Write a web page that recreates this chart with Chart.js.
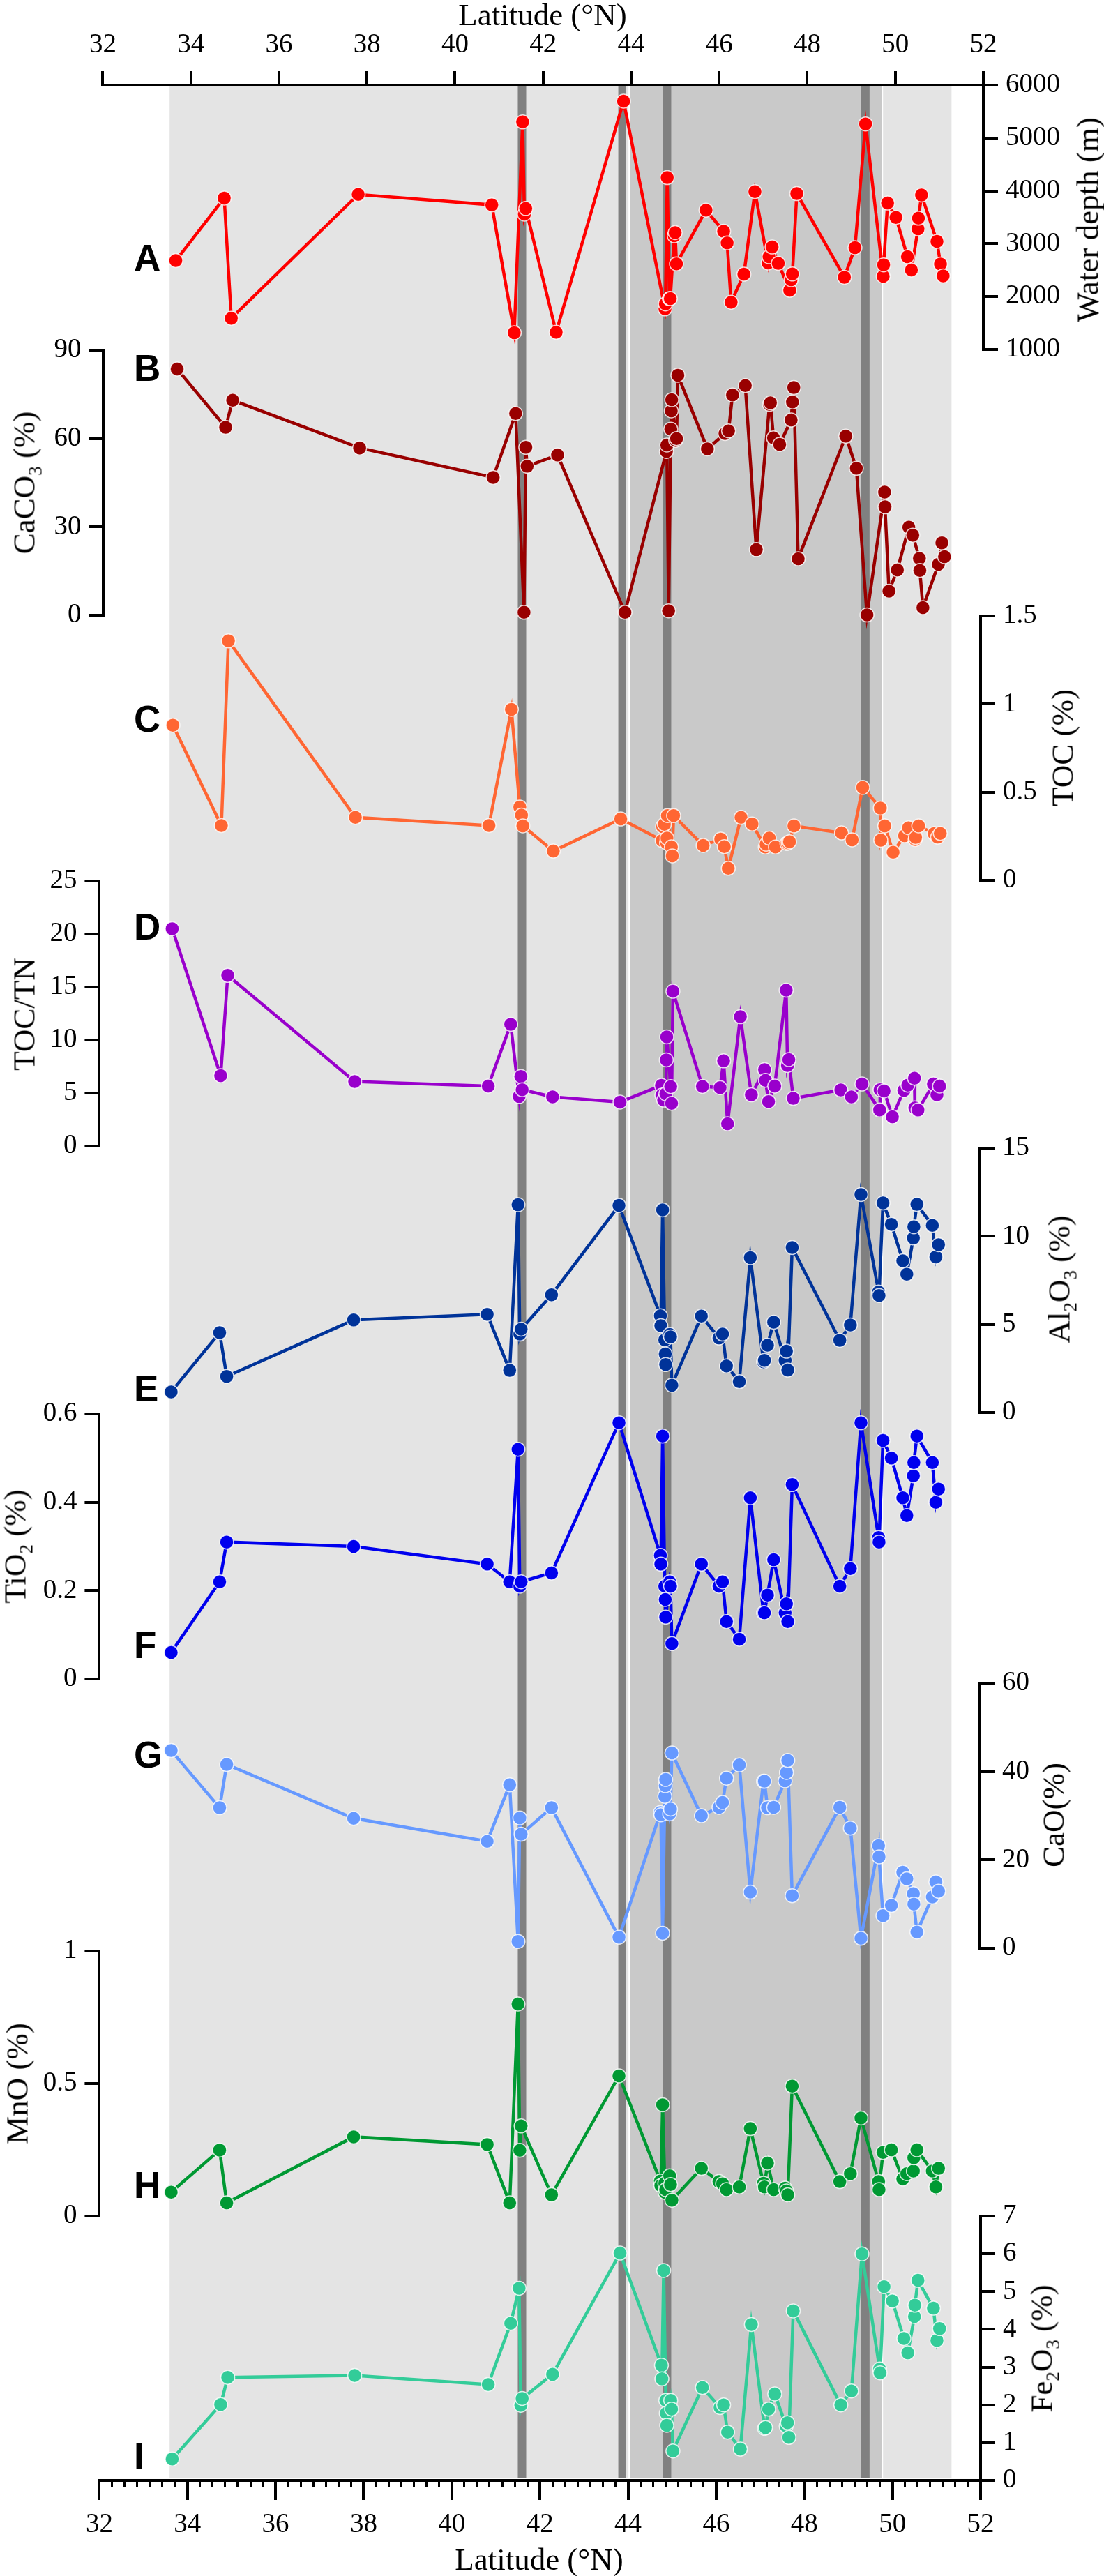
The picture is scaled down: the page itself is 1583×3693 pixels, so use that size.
<!DOCTYPE html>
<html>
<head>
<meta charset="utf-8">
<title>Latitude profiles</title>
<script src="https://cdn.jsdelivr.net/npm/chart.js@4/dist/chart.umd.min.js"></script>
<style>
  html, body { margin: 0; padding: 0; background: #fff; }
  #page { position: relative; width: 1583px; height: 3693px; overflow: hidden; }
  #page canvas { position: absolute; left: 0; }
  .title { position: absolute; font: 45px "Liberation Serif", serif; color: #000; white-space: nowrap; line-height: 1; transform: translate(-50%, -50%); }
  .title.v { transform: translate(-50%, -50%) rotate(-90deg); }
  .title sub { font-size: 60%; line-height: 0; }
  .letter { position: absolute; font: bold 53px "Liberation Sans", sans-serif; color: #000; line-height: 1; }
</style>
</head>
<body>
<div id="page"></div>
<script>
// latitude of every core, same for all panels
const latitude = [33.63,34.73,34.89,37.77,40.80,41.31,41.50,41.54,41.57,42.26,43.79,
  44.73,44.74,44.78,44.83,44.84,44.85,44.94,44.96,44.99,
  45.66,46.06,46.14,46.23,46.52,46.77,47.07,47.09,47.16,47.30,
  47.56,47.59,47.62,47.72,48.80,49.04,49.28,49.68,49.69,49.78,
  49.97,50.23,50.32,50.47,50.48,50.55,50.90,50.98,51.04];

const waterDepth = [2682,3864,1591,3932,3735,1318,5303,3560,3667,1326,5697,
  1768,1862,4251,1960,1960,1963,3150,3210,2620,
  3636,3235,3015,1894,2424,3985,2636,2755,2939,2629,
  2121,2319,2427,3947,2367,2926,5266,2385,2601,3770,
  3497,2755,2504,3282,3483,3921,3045,2615,2393];
const caco3 = [83.6,63.8,73,56.8,46.8,68.5,1,57,50.6,54.4,1,
  55.6,57.8,1.5,63.2,69.4,73.2,59.4,60,81.5,
  56.5,61.7,62.6,74.8,78,22.3,71.6,72.1,60.2,58,
  66.3,72.4,77.3,19.2,60.8,49.9,0.1,41.8,36.8,8.2,
  15.4,29.9,27.2,19.3,15.2,2.6,17.3,24.6,19.9];
const toc = [0.88,0.311,1.359,0.357,0.311,0.97,0.416,0.37,0.309,0.166,0.348,
  0.226,0.305,0.318,0.213,0.239,0.367,0.19,0.139,0.367,
  0.198,0.234,0.191,0.068,0.357,0.32,0.189,0.205,0.239,0.189,
  0.209,0.213,0.219,0.309,0.269,0.23,0.527,0.41,0.228,0.309,
  0.159,0.253,0.298,0.232,0.243,0.309,0.265,0.245,0.266];
const tocTn = [20.5,6.65,16.1,6.08,5.66,11.48,4.68,6.57,5.32,4.64,4.15,
  5.72,4.8,4.34,4.93,8.13,10.3,5.61,4.03,14.6,
  5.63,5.51,8.04,2.11,12.2,4.83,7.2,6.2,4.2,5.66,
  14.7,7.6,8.16,4.5,5.29,4.64,5.85,3.4,5.32,5.2,
  2.76,5.25,5.74,6.4,3.6,3.4,5.85,4.83,5.66];
const al2o3 = [1.17,4.53,2.05,5.25,5.57,2.39,11.79,4.45,4.73,6.68,11.75,
  5.49,4.93,11.5,4.12,3.32,2.72,4.43,4.29,1.55,
  5.47,4.23,4.45,2.64,1.75,8.79,2.88,2.96,3.82,5.13,
  2.96,3.48,2.41,9.36,4.1,4.97,12.37,6.84,6.64,11.89,
  10.68,8.61,7.85,9.9,10.54,11.81,10.62,8.83,9.52];
const tio2 = [0.06,0.22,0.31,0.30,0.26,0.22,0.52,0.21,0.22,0.24,0.58,
  0.28,0.26,0.55,0.21,0.18,0.14,0.22,0.21,0.08,
  0.26,0.21,0.22,0.13,0.09,0.41,0.15,0.15,0.19,0.27,
  0.15,0.17,0.13,0.44,0.21,0.25,0.58,0.32,0.31,0.54,
  0.50,0.41,0.37,0.46,0.49,0.55,0.49,0.40,0.43];
const cao = [44.75,31.8,41.6,29.4,24.2,37,1.55,29.5,25.8,31.8,2.5,
  30.7,30.2,3.4,34.4,36.8,38.2,30.4,31.5,44.2,
  30,31.9,33,38.5,41.5,12.7,37.8,37.8,31.8,31.9,
  37.9,39.8,42.5,11.9,31.9,27.2,2.26,23.2,20.7,7.4,
  9.7,17.2,15.7,12.35,10,3.67,11.6,15,12.9];
const mno = [0.09,0.249,0.05,0.299,0.27,0.05,0.80,0.248,0.34,0.08,0.529,
  0.132,0.115,0.42,0.124,0.089,0.10,0.152,0.119,0.06,
  0.18,0.13,0.122,0.10,0.11,0.33,0.124,0.11,0.20,0.10,
  0.105,0.095,0.08,0.49,0.13,0.16,0.37,0.13,0.10,0.24,
  0.25,0.14,0.16,0.17,0.22,0.25,0.17,0.11,0.18];
const fe2o3 = [0.57,2.01,2.73,2.78,2.54,4.16,5.09,1.99,2.17,2.81,6.02,
  3.05,2.69,5.56,2.12,1.78,1.46,2.12,1.89,0.78,
  2.46,1.93,2.0,1.28,0.83,4.13,1.38,1.4,1.89,2.29,
  1.44,1.53,1.14,4.49,2.0,2.37,6.0,2.95,2.85,5.13,
  4.75,3.76,3.38,4.34,4.64,5.3,4.56,3.71,4.02];

// tick labels
const latTicks = [32,34,36,38,40,42,44,46,48,50,52];
const depthTicks = [1000,2000,3000,4000,5000,6000];
const caco3Ticks = [0,30,60,90];
const tocTicks = [0,0.5,1,1.5];
const tocTnTicks = [0,5,10,15,20,25];
const al2o3Ticks = [0,5,10,15];
const tio2Ticks = [0,0.2,0.4,0.6];
const caoTicks = [0,20,40,60];
const mnoTicks = [0,0.5,1];
const fe2o3Ticks = [0,1,2,3,4,5,6,7];

// shaded latitude bands
const lightBand = [33.60,51.33];
const darkBand = [44.01,49.78];
const greyBars = [[41.50,41.68],[43.78,43.95],[44.79,44.97],[49.29,49.47]];

const PAGE_W = 1583, PAGE_H = 3693, MARGIN = 40;
// bottom latitude axis, the data panels are read against it
const X0 = 142.4, X1 = 1406.4, PX_PER_DEG = (X1 - X0) / 20;
const serif = "'Liberation Serif', serif";

const page = document.getElementById("page");

function addCanvas(top, height) {
  const c = document.createElement("canvas");
  c.width = PAGE_W;
  c.height = height;
  c.style.top = top + "px";
  c.style.width = PAGE_W + "px";
  c.style.height = height + "px";
  page.appendChild(c);
  return c;
}

function addText(cls, html, x, y) {
  const el = document.createElement("div");
  el.className = cls;
  el.innerHTML = html;
  el.style.left = x + "px";
  el.style.top = y + "px";
  page.appendChild(el);
}

// BACKGROUND BANDS
const bandSets = [
  { data: [lightBand], backgroundColor: "#e4e4e4", order: 3 },
  { data: [darkBand], backgroundColor: "#c9c9c9", borderColor: "#fff", borderWidth: { left: 2, right: 2, top: 0, bottom: 0 }, order: 2 }
].concat(greyBars.map(b => ({ data: [b], backgroundColor: "#808080", order: 1 })));

new Chart(addCanvas(0, PAGE_H), {
  type: "bar",
  data: {
    labels: ["band"],
    datasets: bandSets.map(s => Object.assign({ grouped: false, barPercentage: 1, categoryPercentage: 1, borderSkipped: false }, s))
  },
  options: {
    indexAxis: "y",
    responsive: false,
    animation: false,
    devicePixelRatio: 1,
    layout: { padding: { left: X0, right: PAGE_W - X1, top: 124, bottom: PAGE_H - 3553 } },
    plugins: { legend: { display: false }, tooltip: { enabled: false } },
    scales: {
      x: { type: "linear", min: 32, max: 52, display: false },
      y: { display: false }
    }
  }
});

// PANELS
const panels = [
  { values: waterDepth, ticks: depthTicks, color: "#ff0000", side: "right", axisX: 1410, top: 122, bottom: 501, dx: 6.6 },
  { values: caco3, ticks: caco3Ticks, color: "#990000", side: "left", axisX: 148.4, top: 502, bottom: 882, dx: 8.6 },
  { values: toc, ticks: tocTicks, color: "#ff6633", side: "right", axisX: 1406, top: 883, bottom: 1262, dx: 2.5 },
  { values: tocTn, ticks: tocTnTicks, color: "#9900cc", side: "left", axisX: 142.4, top: 1263, bottom: 1643, dx: 1.5 },
  { values: al2o3, ticks: al2o3Ticks, color: "#003399", side: "right", axisX: 1405, top: 1646, bottom: 2025, dx: 0 },
  { values: tio2, ticks: tio2Ticks, color: "#0000ee", side: "left", axisX: 142.4, top: 2027, bottom: 2407, dx: 0 },
  { values: cao, ticks: caoTicks, color: "#6699ff", side: "right", axisX: 1405, top: 2413, bottom: 2793, dx: 0 },
  { values: mno, ticks: mnoTicks, color: "#009933", side: "left", axisX: 142.4, top: 2797, bottom: 3177, dx: 0 },
  { values: fe2o3, ticks: fe2o3Ticks, color: "#33cc99", side: "right", axisX: 1406, top: 3177, bottom: 3556, dx: 1.5 }
];

const tickFont = { family: serif, size: 39 };

function yAxis(p) {
  const isLeft = p.side === "left";
  return {
    type: "linear",
    position: p.side,
    min: p.ticks[0],
    max: p.ticks[p.ticks.length - 1],
    afterBuildTicks: a => { a.ticks = p.ticks.map(v => ({ value: v })); },
    afterFit: a => { a.width = isLeft ? p.axisX : PAGE_W - p.axisX; },
    grid: { drawOnChartArea: false, tickLength: 21, lineWidth: 4, tickWidth: 4, tickColor: "#000" },
    border: { color: "#000", width: 4 },
    ticks: { color: "#000", font: tickFont, padding: 11, autoSkip: false, maxRotation: 0, callback: v => String(v) }
  };
}

function latAxis(position, tickLength, padding) {
  return {
    type: "linear",
    position: position,
    min: 32,
    max: 52,
    afterBuildTicks: a => { a.ticks = latTicks.map(v => ({ value: v })); },
    afterFit: a => { a.height = position === "top" ? 122 : 100; },
    grid: { drawOnChartArea: false, tickLength: tickLength, lineWidth: 4, tickWidth: 4, tickColor: "#000" },
    border: { color: "#000", width: 4 },
    ticks: { color: "#000", font: tickFont, padding: padding, autoSkip: false, maxRotation: 0, callback: v => String(v) }
  };
}

panels.forEach((p, i) => {
  const isFirst = i === 0, isLast = i === panels.length - 1;
  const canvasTop = isFirst ? 0 : p.top - MARGIN;
  const canvasH = (isLast ? PAGE_H : p.bottom + MARGIN) - canvasTop;
  const left = p.side === "left" ? p.axisX : (isFirst ? 147.4 : X0);
  const right = p.side === "right" ? p.axisX : X1;

  const scales = {
    // data scale, shifted a little per panel as in the original figure
    x: {
      type: "linear",
      display: false,
      min: 32 + (left - p.dx - X0) / PX_PER_DEG,
      max: 32 + (right - p.dx - X0) / PX_PER_DEG
    },
    y: yAxis(p)
  };
  if (isFirst) {
    scales.xTop = latAxis("top", 20, 14);
  }
  if (isLast) {
    scales.xBottom = Object.assign(latAxis("bottom", 28, 12), { weight: 2 });
    scales.xMinor = {
      type: "linear",
      position: "bottom",
      weight: 1,
      min: 32,
      max: 52,
      afterBuildTicks: a => {
        const out = [];
        latTicks.slice(0, -1).forEach(t => {
          for (let k = 1; k < 7; k++) out.push({ value: t + k * 2 / 7 });
        });
        a.ticks = out;
      },
      afterFit: a => { a.height = 0; },
      grid: { drawOnChartArea: false, tickLength: 10, lineWidth: 3, tickWidth: 3, tickColor: "#000" },
      border: { display: false },
      ticks: { display: false }
    };
  }

  new Chart(addCanvas(canvasTop, canvasH), {
    type: "line",
    data: {
      datasets: [{
        data: p.values.map((v, k) => ({ x: latitude[k], y: v })),
        borderColor: p.color,
        backgroundColor: p.color,
        borderWidth: 4.5,
        tension: 0,
        pointRadius: 10,
        pointBorderColor: "rgba(255,255,255,0.8)",
        pointBorderWidth: 1.5,
        clip: false
      }]
    },
    options: {
      responsive: false,
      animation: false,
      devicePixelRatio: 1,
      layout: {
        padding: {
          left: p.side === "left" ? 0 : left,
          right: p.side === "right" ? 0 : PAGE_W - right,
          top: isFirst ? 0 : p.top - canvasTop,
          bottom: isLast ? PAGE_H - 3556 - 100 : canvasTop + canvasH - p.bottom
        }
      },
      plugins: { legend: { display: false }, tooltip: { enabled: false } },
      scales: scales
    }
  });
});

// AXIS TITLES
addText("title", "Latitude (°N)", 778, 21);
addText("title", "Latitude (°N)", 773, 3669);
addText("title v", "Water depth (m)", 1560, 315);
addText("title v", "CaCO<sub>3</sub> (%)", 35, 692);
addText("title v", "TOC (%)", 1524, 1072);
addText("title v", "TOC/TN", 35, 1454);
addText("title v", "Al<sub>2</sub>O<sub>3</sub> (%)", 1519, 1834);
addText("title v", "TiO<sub>2</sub> (%)", 22, 2217);
addText("title v", "CaO(%)", 1511, 2602);
addText("title v", "MnO (%)", 25, 2987);
addText("title v", "Fe<sub>2</sub>O<sub>3</sub> (%)", 1494, 3367);

// PANEL LETTERS
const letters = ["A","B","C","D","E","F","G","H","I"];
const letterTops = [343,501,1004,1302,1964,2332,2489,3106,3495];
letters.forEach((l, i) => addText("letter", l, 192, letterTops[i]));
</script>
</body>
</html>
